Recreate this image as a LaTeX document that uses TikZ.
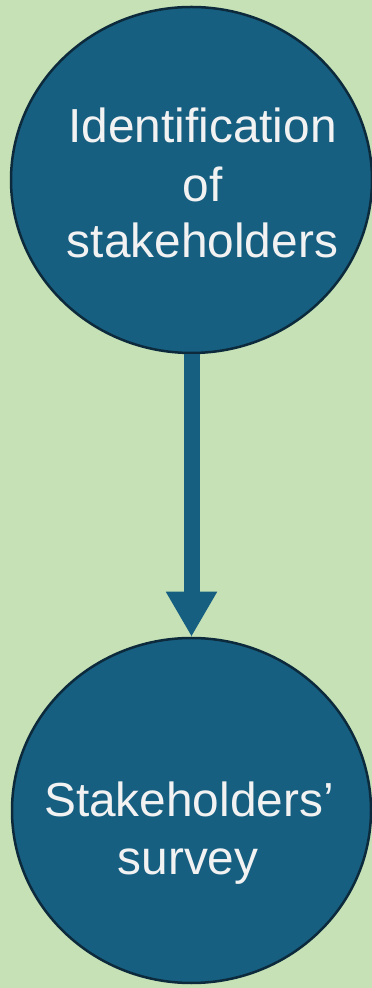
\documentclass[tikz,border=0pt]{standalone}
\usepackage{fontspec}
\setmainfont{Liberation Sans}
\usetikzlibrary{shapes.geometric,arrows.meta}
\definecolor{bgc}{HTML}{C5E1B5}
\definecolor{fillc}{HTML}{175F81}
\definecolor{linec}{HTML}{0C2A3B}
\definecolor{txtc}{HTML}{F2F2F2}
\tikzset{
  stage/.style={ellipse, draw=linec, fill=fillc, line width=2.5pt, inner sep=0pt},
  lbl/.style={anchor=base, text=txtc, inner sep=0pt, font=\fontsize{47.8}{58}\selectfont},
  flow/.style={draw=fillc, line width=16pt, -{Triangle[width=48pt,length=45pt]}}
}
\begin{document}
\begin{tikzpicture}[x=1pt,y=1pt]
\fill[bgc] (0,0) rectangle (372,988);
\useasboundingbox (0,0) rectangle (372,988);
\node[stage, minimum width=361pt, minimum height=346pt] (s1) at (191.5,808) {};
\node[stage, minimum width=359pt, minimum height=345pt] (s2) at (191.5,177.5) {};
\draw[flow] (s1.south) -- (s2.north);
\node[lbl] (l1) at (202.5,845) {Identification};
\node[lbl] (l2) at (202.5,786) {of};
\node[lbl] (l3) at (202.5,730) {stakeholders};
\node[lbl] (l4) at (189,171) {Stakeholders’};
\node[lbl] (l5) at (188,113) {survey};
\end{tikzpicture}
\end{document}
